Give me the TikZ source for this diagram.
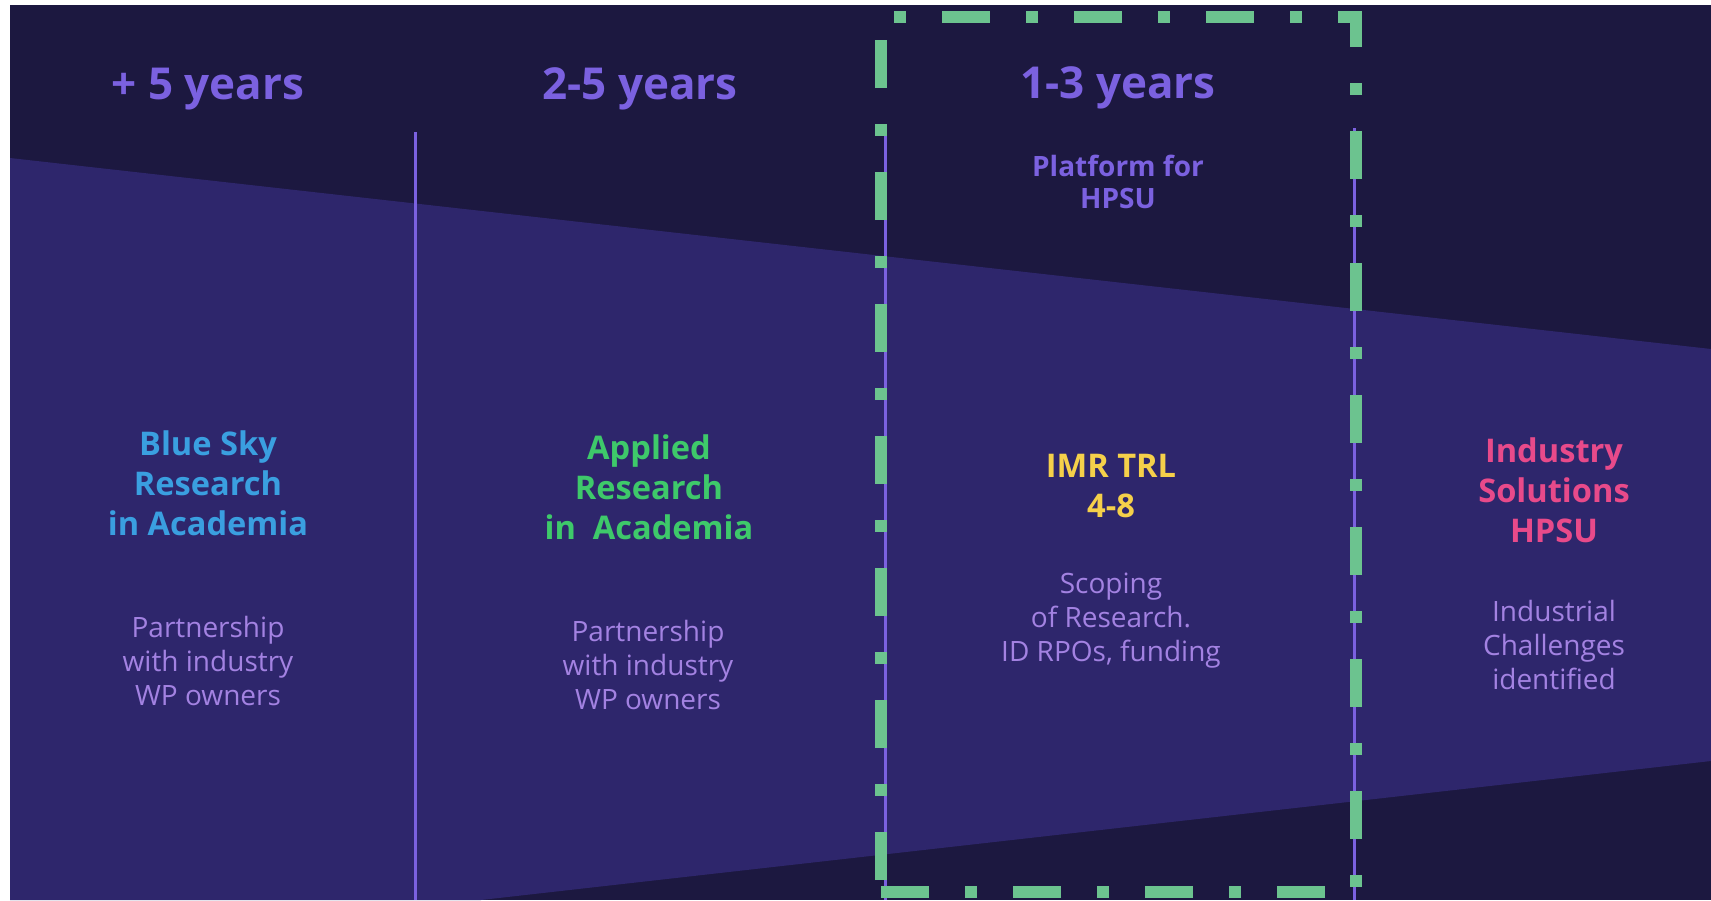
\documentclass[tikz,border=0pt]{standalone}
\usepackage{fontspec}
\setmainfont{Open Sans}
\usepackage{tikz}
\usetikzlibrary{positioning}

\definecolor{bgdark}{HTML}{1C1840}
\definecolor{bgband}{HTML}{2E266C}
\definecolor{headpurple}{HTML}{7B61E0}
\definecolor{notepurple}{HTML}{A382E2}
\definecolor{skyblue}{HTML}{3A9FE0}
\definecolor{appgreen}{HTML}{3EC96A}
\definecolor{trlyellow}{HTML}{F5D04A}
\definecolor{indpink}{HTML}{E84A8A}
\definecolor{dashgreen}{HTML}{6CC38F}

\begin{document}
\begin{tikzpicture}[x=0.5pt,y=-0.5pt]
    \useasboundingbox (0,0) rectangle (1711,900);
    \fill[white] (0,0) rectangle (1711,900);
    %Background and band
    \fill[bgdark] (10,5) rectangle (1711,900);
    \fill[bgband] (10,158) -- (1711,349) -- (1711,761) -- (481,900) -- (10,900) -- cycle;

    %Separators
    \begin{scope}[every path/.style={draw=headpurple,line width=1.5pt}]
      \path (415,132) -- (415,900);
      \path (885,128) -- (885,900);
      \path (1354,128) -- (1354,900);
    \end{scope}

    %Highlight window
    \draw[dashgreen,line width=6pt,dash pattern=on 24pt off 18pt on 6pt off 18pt,dash phase=60pt]
      (881,892) -- (881,17) -- (1356,17) -- (1356,892) -- cycle;

    %Years
    \begin{scope}[every node/.style={text=headpurple,font=\fontsize{22}{26}\selectfont\bfseries}]
      \node (plus5) at (208,89) {+ 5 years};
      \node (two5) at (640,89) {2-5 years};
      \node (one3) at (1118,88) {1-3 years};
    \end{scope}
    \node[text=headpurple,align=center,font=\fontsize{14}{16}\selectfont\bfseries] (platform) at (1118,182) {Platform for\\HPSU};

    %Stages
    \begin{scope}[every node/.style={align=center,font=\fontsize{16.3}{20}\selectfont\bfseries}]
      \node[text=skyblue] (bluesky) at (208,483) {Blue Sky\\Research\\in Academia};
      \node[text=appgreen] (applied) at (649,487) {Applied\\Research\\in\ \ Academia};
      \node[text=trlyellow] (imrtrl) at (1111,486) {IMR TRL\\4-8};
      \node[text=indpink] (industry) at (1554,490) {Industry\\Solutions\\HPSU};
    \end{scope}

    %Notes
    \begin{scope}[every node/.style={align=center,text=notepurple,font=\fontsize{14}{17}\selectfont}]
      \node (partner1) at (208,661) {Partnership\\with industry\\WP owners};
      \node (partner2) at (648,665) {Partnership\\with industry\\WP owners};
      \node (scoping) at (1111,621) {Scoping\\of Research.\\ID RPOs, funding};
      \node (challenges) at (1554,645) {Industrial\\Challenges\\identified};
    \end{scope}
\end{tikzpicture}
\end{document}
